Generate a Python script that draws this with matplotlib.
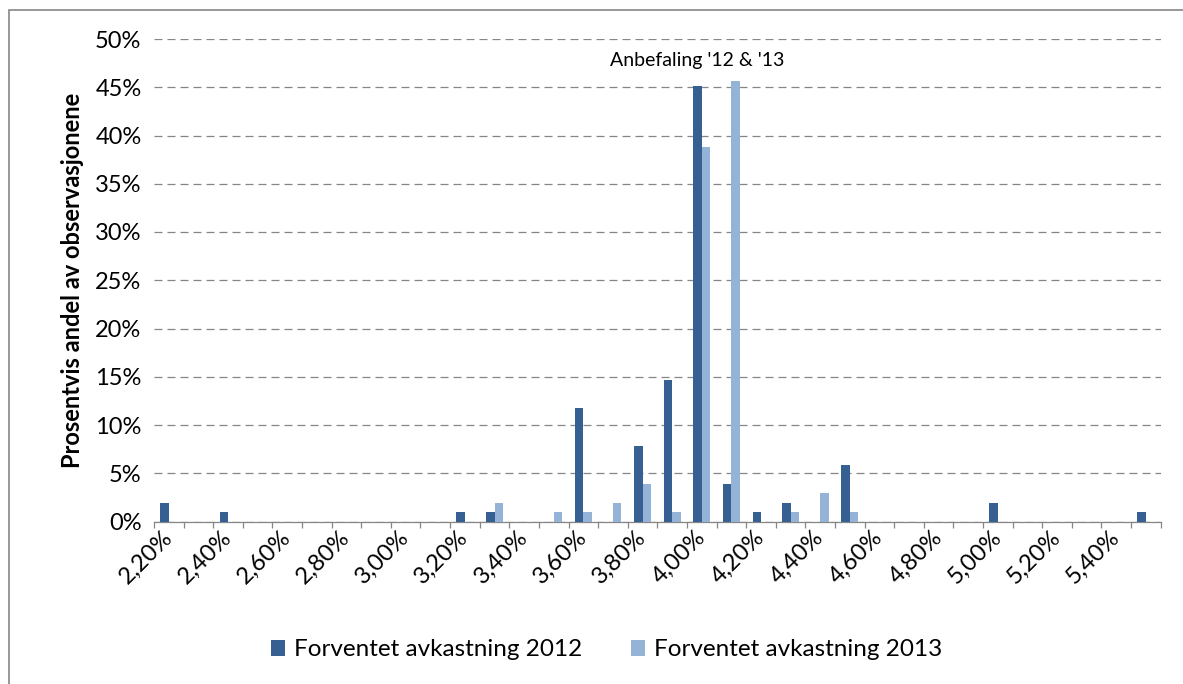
import matplotlib
matplotlib.use("Agg")
import matplotlib.pyplot as plt
from matplotlib.patches import Rectangle
import numpy as np

plt.rcParams['font.family'] = ['Lato', 'DejaVu Sans']

# Expected-return buckets (percent) and share of respondents per bucket
categories = [2.20, 2.30, 2.40, 2.50, 2.60, 2.70, 2.80, 2.90, 3.00, 3.10,
              3.20, 3.30, 3.40, 3.50, 3.60, 3.70, 3.80, 3.90, 4.00, 4.10,
              4.20, 4.30, 4.40, 4.50, 4.60, 4.70, 4.80, 4.90, 5.00, 5.10,
              5.20, 5.30, 5.40, 5.50]

share_2012 = [1.96, 0, 0.98, 0, 0, 0, 0, 0, 0, 0,
              0.98, 0.98, 0, 0, 11.76, 0, 7.84, 14.71, 45.10, 3.92,
              0.98, 1.96, 0, 5.88, 0, 0, 0, 0, 1.96, 0,
              0, 0, 0, 0.98]

share_2013 = [0, 0, 0, 0, 0, 0, 0, 0, 0, 0,
              0, 1.94, 0, 0.97, 0.97, 1.94, 3.88, 0.97, 38.83, 45.63,
              0, 0.97, 2.91, 0.97, 0, 0, 0, 0, 0, 0,
              0, 0, 0, 0]

series_names = ["Forventet avkastning 2012", "Forventet avkastning 2013"]
y_ticks = [0, 5, 10, 15, 20, 25, 30, 35, 40, 45, 50]
annotation = "Anbefaling '12 & '13"
y_label = "Prosentvis andel av observasjonene"

dark = "#376092"
light = "#95B3D7"
grid_grey = "#868686"

W, H = 1183, 684
fig = plt.figure(figsize=(W / 100, H / 100), dpi=100)
ax = fig.add_axes([154 / W, 1 - 521.5 / H, (1160.7 - 154) / W, (521.5 - 39) / H])

x = np.arange(len(categories))
bw = 0.286
ax.bar(x - bw / 2, share_2012, width=bw, color=dark, label=series_names[0], zorder=3)
ax.bar(x + bw / 2, share_2013, width=bw, color=light, label=series_names[1], zorder=3)

ax.set_xlim(-0.5, len(categories) - 0.5)
ax.set_ylim(0, 50)

# horizontal dashed gridlines
ax.set_yticks(y_ticks)
ax.set_yticklabels([f"{v}%" for v in y_ticks], fontsize=17)
ax.yaxis.grid(True, color=grid_grey, linestyle=(0, (6.4, 4)), linewidth=0.9, zorder=0)
ax.tick_params(axis='y', length=0, pad=9)

# category boundary tick marks, labels on every second category
ax.set_xticks(np.arange(-0.5, len(categories), 1.0))
ax.set_xticklabels([])
ax.tick_params(axis='x', which='major', length=4.5, width=0.9, color=grid_grey, direction='out')
lab_pos = x[::2]
ax.set_xticks(lab_pos, minor=True)
ax.set_xticklabels([f"{c:.2f}%".replace('.', ',') for c in categories[::2]],
                   minor=True, rotation=45, ha='right', va='center',
                   rotation_mode='anchor', fontsize=17)
ax.tick_params(axis='x', which='minor', length=0, pad=9)

for s in ['top', 'right', 'left']:
    ax.spines[s].set_visible(False)
ax.spines['bottom'].set_color(grid_grey)
ax.spines['bottom'].set_linewidth(0.9)

ax.set_ylabel(y_label, fontsize=17, fontweight='bold', labelpad=8)

ax.text(18 - bw / 2, 47.8, annotation, ha='center', va='center', fontsize=14)

fig.legend(loc='center', bbox_to_anchor=(0.5127, 1 - 650 / H), ncol=2, frameon=False,
           fontsize=17.5, handlelength=0.6, handleheight=0.6, handletextpad=0.35,
           columnspacing=2.0)

# chart-area border
fig.add_artist(Rectangle((8.5 / W, -0.05), 1.1, (H - 9.5) / H + 0.05,
                         transform=fig.transFigure, fill=False,
                         edgecolor=grid_grey, linewidth=1.2))

fig.savefig("out.png", dpi=100, facecolor='white')
